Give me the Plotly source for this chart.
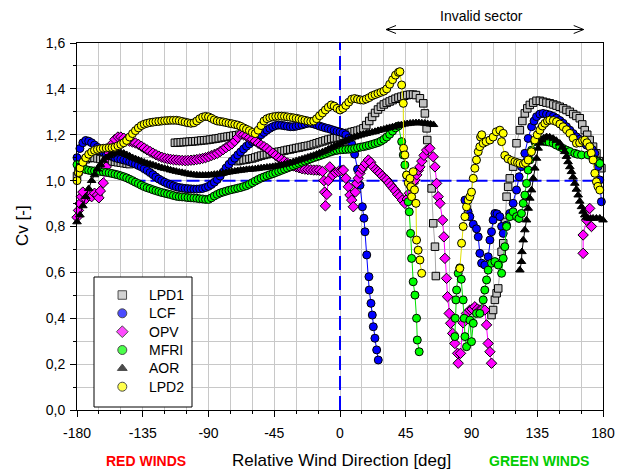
import plotly.graph_objects as go

# ---------------- DATA (deg, Cv) ----------------
LPD1_PTS = [
    (-180, 1.02), (-179, 1.04), (-178, 1.06), (-176, 1.082), (-174, 1.093), (-172, 1.098), (-170, 1.10),
    (-168, 1.099), (-166, 1.097), (-164, 1.094), (-162, 1.091), (-160, 1.088), (-158, 1.086), (-156, 1.084),
    (-154, 1.082), (-152, 1.08), (-150, 1.078), (-148, 1.076), (-146, 1.074), (-144, 1.072),
    (None, None),
    (-113, 1.165), (-111, 1.166), (-109, 1.167), (-107, 1.168), (-105, 1.169), (-103, 1.17), (-101, 1.171),
    (-99, 1.172), (-97, 1.173), (-95, 1.175), (-93, 1.176), (-91, 1.177), (-89, 1.179), (-87, 1.181),
    (-85, 1.183), (-83, 1.185), (-81, 1.188), (-79, 1.19), (-77, 1.192), (-75, 1.194), (-73, 1.196),
    (-71, 1.198), (-69, 1.2), (-67, 1.2),
    (None, None),
    (-70, 1.085), (-68, 1.088), (-66, 1.09), (-64, 1.092), (-62, 1.095), (-60, 1.097), (-58, 1.101),
    (-56, 1.105), (-54, 1.109), (-52, 1.112), (-50, 1.115), (-48, 1.118), (-46, 1.12), (-44, 1.123),
    (-42, 1.126), (-40, 1.128), (-38, 1.131), (-36, 1.134), (-34, 1.136), (-32, 1.139), (-30, 1.142),
    (-28, 1.144), (-26, 1.147), (-24, 1.15), (-22, 1.152), (-20, 1.155), (-18, 1.159), (-16, 1.163),
    (-14, 1.167), (-12, 1.171), (-10, 1.175), (-8, 1.179), (-6, 1.182), (-4, 1.185), (-2, 1.188),
    (0, 1.19), (2, 1.196), (4, 1.203), (6, 1.208), (8, 1.212), (10, 1.215), (12, 1.218), (14, 1.222),
    (16, 1.228), (18, 1.242), (20, 1.26), (22, 1.278), (24, 1.295), (26, 1.31), (28, 1.322), (30, 1.332),
    (32, 1.339), (34, 1.345), (36, 1.351), (38, 1.357), (40, 1.362), (42, 1.366), (44, 1.37), (46, 1.373),
    (48, 1.375), (50, 1.375), (52, 1.373), (54.7, 1.359), (57, 1.337), (58.1, 1.293), (59.3, 1.228),
    (59.7, 1.177), (62.7, 0.966), (63.8, 0.814), (65, 0.712), (65.6, 0.584),
    (None, None),
    (103.7, 0.414), (104.8, 0.436), (106, 0.48), (107.2, 0.509), (108.3, 0.53), (110.6, 0.69),
    (111.7, 0.727), (113, 0.82), (114, 0.93), (115.1, 0.973), (116.2, 1.01), (118.5, 1.061),
    (120.8, 1.163), (123.1, 1.22), (124.8, 1.26), (126.5, 1.293), (128.2, 1.315), (129.9, 1.33),
    (132.2, 1.34), (134.5, 1.348), (136.8, 1.348), (139, 1.344), (141.3, 1.34), (143.6, 1.337),
    (146, 1.332), (148.2, 1.327), (150.4, 1.322), (152.7, 1.315), (155, 1.308), (157.3, 1.30),
    (159.6, 1.29), (161.8, 1.282), (164.1, 1.272), (165.8, 1.245), (167.5, 1.22), (169.2, 1.2),
    (170.9, 1.177), (173.2, 1.148), (175.5, 1.119), (177.2, 1.085), (178.9, 1.054),
]

LCF_PTS = [
    (-180, 1.10), (-178, 1.14), (-176, 1.165), (-174, 1.175), (-172, 1.172), (-170, 1.165), (-168, 1.155),
    (-166, 1.145), (-164, 1.135), (-162, 1.125), (-160, 1.118), (-158, 1.11), (-156, 1.105), (-154, 1.10),
    (-152, 1.096), (-150, 1.093), (-148, 1.09), (-146, 1.087), (-144, 1.082), (-142, 1.077), (-140, 1.072),
    (-138, 1.066), (-136, 1.06), (-134, 1.052), (-132, 1.044), (-130, 1.035), (-128, 1.026), (-126, 1.016),
    (-124, 1.007), (-122, 1.0), (-120, 0.993), (-118, 0.987), (-116, 0.982), (-114, 0.977), (-112, 0.973),
    (-110, 0.97), (-108, 0.968), (-106, 0.966), (-104, 0.965), (-102, 0.964), (-100, 0.963), (-98, 0.963),
    (-96, 0.964), (-94, 0.966), (-92, 0.97), (-90, 0.975), (-88, 0.983), (-86, 0.993), (-84, 1.005),
    (-82, 1.02), (-80, 1.037), (-78, 1.055), (-76, 1.071), (-74, 1.085), (-72, 1.098), (-70, 1.112),
    (-68, 1.125), (-66, 1.138), (-64, 1.15), (-62, 1.16), (-60, 1.17), (-58, 1.18), (-56, 1.19),
    (-54, 1.2), (-52, 1.21), (-50, 1.22), (-48, 1.228), (-46, 1.235), (-44, 1.24), (-42, 1.242),
    (-40, 1.241), (-38, 1.239), (-36, 1.237), (-34, 1.235), (-32, 1.235), (-30, 1.237), (-28, 1.24),
    (-26, 1.243), (-24, 1.247), (-22, 1.25), (-20, 1.25), (-18, 1.247), (-16, 1.243), (-14, 1.238),
    (-12, 1.234), (-10, 1.23), (-8, 1.227), (-6, 1.223), (-4, 1.219), (-2, 1.215), (0, 1.212),
    (2, 1.208), (4, 1.2), (6, 1.185), (8, 1.16), (10, 1.115), (12, 1.05), (13.7, 0.98), (15.3, 0.886),
    (16.4, 0.836), (17.1, 0.777), (18.3, 0.676), (19.8, 0.581), (20.0, 0.523), (21.2, 0.465),
    (22.1, 0.414), (22.8, 0.363), (23.9, 0.313), (25.1, 0.262), (26.2, 0.218),
    (None, None),
    (85.5, 0.915), (87.7, 0.864), (88.9, 0.843), (91.2, 0.81), (93.4, 0.79), (94.6, 0.755),
    (95.7, 0.683), (96.9, 0.64), (99.1, 0.632), (101.4, 0.668), (102.6, 0.741), (103.7, 0.777),
    (104.8, 0.828), (106, 0.857), (107.5, 0.855), (109.4, 0.843), (110.6, 0.80), (111.7, 0.77),
    (114, 0.806), (116.2, 0.857), (118.5, 0.901), (120.8, 0.959), (122.6, 1.017), (124.2, 1.061),
    (126.5, 1.119), (128.8, 1.184), (131.1, 1.235), (132.8, 1.26), (134.5, 1.279), (136.8, 1.29),
    (139, 1.293), (141.3, 1.29), (143.6, 1.286), (146, 1.28), (148.2, 1.272), (150.5, 1.262),
    (152.7, 1.25), (155, 1.235), (157.3, 1.22), (159.6, 1.205), (161.8, 1.191), (164, 1.18),
    (166.5, 1.165), (168.7, 1.155), (170.9, 1.148), (172.7, 1.135), (174.4, 1.119), (176.6, 1.061),
    (177.8, 1.003), (178.9, 0.908),
]

OPV_PTS = [
    (-180, 0.84), (-179, 0.87), (-178, 0.90), (-177, 0.93), (-176, 0.95), (-174, 0.92), (-172, 0.935),
    (-170, 0.93), (-168, 0.945), (-166, 0.937), (-165, 0.925), (-164, 0.955), (-162, 0.99), (-160, 1.06),
    (-158, 1.12), (-156, 1.16), (-154, 1.18), (-152, 1.19), (-150, 1.19), (-148, 1.185), (-146, 1.178),
    (-144, 1.172), (-142, 1.168), (-140, 1.164), (-138, 1.158), (-136, 1.15), (-134, 1.142), (-132, 1.134),
    (-130, 1.127), (-128, 1.12), (-126, 1.113), (-124, 1.107), (-122, 1.102), (-120, 1.098), (-118, 1.095),
    (-116, 1.093), (-114, 1.091), (-112, 1.09), (-110, 1.089), (-108, 1.088), (-106, 1.087), (-104, 1.088),
    (-102, 1.089), (-100, 1.09), (-98, 1.092), (-96, 1.094), (-94, 1.097), (-92, 1.10), (-90, 1.104),
    (-88, 1.109), (-86, 1.114), (-84, 1.119), (-82, 1.127), (-80, 1.135), (-78, 1.144), (-76, 1.152),
    (-74, 1.16), (-72, 1.172), (-70, 1.188), (-68, 1.203), (-66, 1.20), (-64, 1.194), (-62, 1.187),
    (-60, 1.18), (-58, 1.172), (-56, 1.163), (-54, 1.155), (-52, 1.148), (-50, 1.14), (-48, 1.13),
    (-46, 1.12), (-44, 1.11), (-42, 1.10), (-40, 1.092), (-38, 1.084), (-36, 1.077), (-34, 1.07),
    (-32, 1.065), (-30, 1.06), (-28, 1.056), (-26, 1.052), (-24, 1.05), (-22, 1.048), (-20, 1.047),
    (-18, 1.046), (-16, 1.046), (-14, 1.045), (-12, 1.04), (-11, 1.0), (-10.5, 0.95), (-10, 0.89),
    (-9, 0.94), (-8, 1.0), (-7, 1.06), (-5, 1.024), (-3, 1.035), (-1, 1.04), (1, 1.043), (2.3, 1.046),
    (4, 1.01), (5.7, 0.973), (6.8, 0.937), (8, 0.915), (9.1, 0.886), (10.5, 0.95), (11.4, 0.988),
    (12.5, 1.01), (13.7, 1.032), (15, 1.05), (15.9, 1.06), (17.5, 1.075), (19.4, 1.09), (21, 1.08),
    (22.8, 1.06), (24.5, 1.048), (26, 1.04), (27.4, 1.032), (29, 1.02), (30.5, 1.01), (32, 1.003),
    (33.5, 0.99), (35, 0.978), (36.5, 0.966), (38, 0.955), (39.5, 0.94), (41, 0.93), (42.7, 0.915),
    (44.4, 0.901), (46, 0.92), (47.5, 0.945), (49, 0.97), (50.2, 0.99), (51.3, 1.003), (52.5, 1.025),
    (53.6, 1.045), (54.7, 1.06), (56, 1.085), (57.5, 1.11), (59.3, 1.133), (61.5, 1.141), (63.8, 1.104),
    (65, 1.06), (66.1, 0.988), (67.2, 0.93), (68.4, 0.901), (70.2, 0.828), (71.1, 0.755), (71.8, 0.661),
    (72.9, 0.574), (73.6, 0.494), (74.7, 0.421), (75.7, 0.378), (77.1, 0.334), (78.6, 0.29),
    (80.5, 0.247), (80.9, 0.204), (82.5, 0.247), (84.3, 0.38), (86.6, 0.421), (88.9, 0.436),
    (90.5, 0.44), (92.3, 0.45), (94, 0.44), (95.7, 0.436), (97.5, 0.44), (99.1, 0.436), (100.3, 0.371),
    (101.4, 0.29), (102.6, 0.254), (103.7, 0.204),
    (None, None),
    (166.4, 0.683), (166.4, 0.763), (168.7, 0.828), (170.9, 0.879), (172.1, 0.80),
]

MFRI_PTS = [
    (-180, 1.07), (-178, 1.06), (-176, 1.053), (-174, 1.048), (-172, 1.045), (-170, 1.043), (-168, 1.042),
    (-166, 1.041), (-164, 1.04), (-162, 1.038), (-160, 1.036), (-158, 1.034), (-156, 1.031), (-154, 1.028),
    (-152, 1.025), (-150, 1.021), (-148, 1.017), (-146, 1.012), (-144, 1.006), (-142, 1.0), (-140, 0.993),
    (-138, 0.987), (-136, 0.98), (-134, 0.974), (-132, 0.969), (-130, 0.965), (-128, 0.96), (-126, 0.956),
    (-124, 0.952), (-122, 0.948), (-120, 0.945), (-118, 0.942), (-116, 0.939), (-114, 0.935), (-112, 0.932),
    (-110, 0.93), (-108, 0.929), (-106, 0.928), (-104, 0.926), (-102, 0.925), (-100, 0.924), (-98, 0.923),
    (-96, 0.921), (-94, 0.92), (-92, 0.918), (-90, 0.918), (-88, 0.925), (-86, 0.933), (-84, 0.94),
    (-82, 0.946), (-80, 0.95), (-78, 0.954), (-76, 0.958), (-74, 0.961), (-72, 0.964), (-70, 0.967),
    (-68, 0.97), (-66, 0.974), (-64, 0.978), (-62, 0.984), (-60, 0.991), (-58, 0.998), (-56, 1.005),
    (-54, 1.011), (-52, 1.016), (-50, 1.021), (-48, 1.026), (-46, 1.03), (-44, 1.035), (-42, 1.04),
    (-40, 1.045), (-38, 1.05), (-36, 1.055), (-34, 1.06), (-32, 1.065), (-30, 1.07), (-28, 1.075),
    (-26, 1.08), (-24, 1.085), (-22, 1.09), (-20, 1.095), (-18, 1.10), (-16, 1.104), (-14, 1.108),
    (-12, 1.113), (-10, 1.117), (-8, 1.122), (-6, 1.126), (-4, 1.13), (-2, 1.132), (0, 1.134),
    (2, 1.135), (4, 1.136), (6, 1.137), (8, 1.138), (10, 1.14), (12, 1.143), (14, 1.146), (16, 1.148),
    (18, 1.151), (20, 1.154), (22, 1.158), (24, 1.162), (26, 1.166), (28, 1.172), (30, 1.18), (32, 1.19),
    (34, 1.202), (36, 1.216), (38, 1.23), (40, 1.238), (42.2, 1.17), (43.3, 1.112), (44.4, 1.068),
    (45.6, 1.024), (46.7, 0.908), (47.4, 0.864), (48.3, 0.77), (49.0, 0.661), (50.1, 0.559),
    (51.3, 0.501), (52.4, 0.40), (52.9, 0.305), (54.2, 0.254),
    (None, None),
    (78.6, 0.32), (78.9, 0.40), (79.3, 0.48), (79.8, 0.523), (80.9, 0.596), (82, 0.62), (83, 0.57),
    (84.3, 0.48), (85, 0.40), (85.5, 0.32), (86.6, 0.276), (88.9, 0.392), (90, 0.298), (91.2, 0.378),
    (93.4, 0.421), (95.7, 0.421), (98, 0.48), (99.1, 0.523), (100.3, 0.567), (101.4, 0.61),
    (103.7, 0.64), (106, 0.647), (108.3, 0.632), (110.6, 0.596), (111.7, 0.661), (112.8, 0.712),
    (114, 0.80), (116.2, 0.843), (118.5, 0.864), (120.8, 0.843), (122.5, 0.835), (124.2, 0.857),
    (125.4, 0.901), (126.5, 0.937), (127.7, 0.988), (128.8, 1.046), (129.9, 1.09), (131.1, 1.133),
    (133.3, 1.17), (134.5, 1.175), (136.8, 1.177), (138.5, 1.176), (140, 1.172), (141.4, 1.17),
    (143, 1.168), (145.9, 1.163), (148, 1.155), (150.4, 1.148), (152.7, 1.14), (155, 1.133),
    (157.3, 1.127), (160.7, 1.119), (162.5, 1.115), (165.3, 1.112), (169.8, 1.112), (173.2, 1.097),
    (176.6, 1.082), (177.8, 1.075),
]

AOR_PTS = [
    (-180, 0.82), (-178, 0.85), (-176, 0.89), (-174, 0.93), (-172, 0.965), (-170, 1.0), (-168, 1.025),
    (-166, 1.05), (-164, 1.07), (-162, 1.088), (-160, 1.10), (-158, 1.108), (-156, 1.115), (-154, 1.12),
    (-152, 1.123), (-150, 1.122), (-148, 1.119), (-146, 1.113), (-144, 1.107), (-142, 1.10), (-140, 1.095),
    (-138, 1.09), (-136, 1.085), (-134, 1.08), (-132, 1.075), (-130, 1.072), (-128, 1.068), (-126, 1.064),
    (-124, 1.06), (-122, 1.056), (-120, 1.053), (-118, 1.05), (-116, 1.046), (-114, 1.043), (-112, 1.04),
    (-110, 1.037), (-108, 1.035), (-106, 1.032), (-104, 1.029), (-102, 1.027), (-100, 1.025), (-98, 1.024),
    (-96, 1.023), (-94, 1.023), (-92, 1.023), (-90, 1.024), (-88, 1.025), (-86, 1.027), (-84, 1.028),
    (-82, 1.03), (-80, 1.032), (-78, 1.035), (-76, 1.037), (-74, 1.039), (-72, 1.041), (-70, 1.043),
    (-68, 1.045), (-66, 1.046), (-64, 1.048), (-62, 1.049), (-60, 1.05), (-58, 1.051), (-56, 1.053),
    (-54, 1.055), (-52, 1.056), (-50, 1.058), (-48, 1.059), (-46, 1.061), (-44, 1.063), (-42, 1.065),
    (-40, 1.068), (-38, 1.071), (-36, 1.075), (-34, 1.078), (-32, 1.082), (-30, 1.086), (-28, 1.09),
    (-26, 1.094), (-24, 1.098), (-22, 1.102), (-20, 1.106), (-18, 1.11), (-16, 1.115), (-14, 1.12),
    (-12, 1.125), (-10, 1.13), (-8, 1.137), (-6, 1.143), (-4, 1.149), (-2, 1.155), (0, 1.16),
    (2, 1.167), (4, 1.174), (6, 1.18), (8, 1.186), (10, 1.19), (12, 1.194), (14, 1.198), (16, 1.202),
    (18, 1.205), (20, 1.208), (22, 1.211), (24, 1.214), (26, 1.218), (28, 1.221), (30, 1.224),
    (32, 1.228), (34, 1.231), (36, 1.234), (38, 1.237), (40, 1.24), (42, 1.243), (44, 1.246),
    (46, 1.248), (48, 1.25), (50, 1.251), (52, 1.252), (54, 1.252), (56, 1.251), (58, 1.25),
    (60, 1.248), (62, 1.246), (64, 1.244),
    (None, None),
    (123.1, 0.61), (124.2, 0.647), (124.5, 0.69), (125.4, 0.741), (126.5, 0.785), (127.7, 0.828),
    (128.8, 0.879), (129.9, 0.923), (131.1, 0.959), (132.2, 1.01), (133.3, 1.054), (134.5, 1.097),
    (135.6, 1.141), (136.8, 1.163), (137.9, 1.177), (139.5, 1.186), (141.4, 1.191), (143.5, 1.19),
    (145.9, 1.184), (148, 1.175), (150.4, 1.163), (152.2, 1.145), (153.8, 1.126), (155, 1.105),
    (156.1, 1.082), (157.3, 1.06), (158.4, 1.039), (159.5, 1.015), (160.7, 0.988), (161.8, 0.962),
    (163, 0.937), (164.1, 0.91), (165.3, 0.886), (166.4, 0.866), (167.5, 0.85), (168.7, 0.84),
    (169.8, 0.836), (171.5, 0.835), (173.2, 0.836), (175.5, 0.836), (177.8, 0.836), (180, 0.828),
]

LPD2_PTS = [
    (-180, 1.0), (-179, 1.035), (-178, 1.055), (-176, 1.08), (-174, 1.10), (-172, 1.115), (-170, 1.125),
    (-168, 1.132), (-166, 1.136), (-164, 1.139), (-162, 1.141), (-160, 1.142), (-158, 1.143), (-156, 1.144),
    (-154, 1.146), (-152, 1.152), (-150, 1.158), (-148, 1.165), (-146, 1.175), (-144, 1.19), (-142, 1.205),
    (-140, 1.218), (-138, 1.23), (-136, 1.24), (-134, 1.246), (-132, 1.25), (-130, 1.253), (-128, 1.255),
    (-126, 1.257), (-124, 1.258), (-122, 1.26), (-120, 1.261), (-118, 1.262), (-116, 1.263), (-114, 1.263),
    (-112, 1.263), (-110, 1.261), (-108, 1.258), (-106, 1.255), (-104, 1.252), (-102, 1.25), (-100, 1.252),
    (-98, 1.26), (-96, 1.27), (-94, 1.277), (-92, 1.28), (-90, 1.278), (-88, 1.272), (-86, 1.265),
    (-84, 1.26), (-82, 1.258), (-80, 1.256), (-78, 1.253), (-76, 1.25), (-74, 1.248), (-72, 1.245),
    (-70, 1.242), (-68, 1.237), (-66, 1.23), (-64, 1.224), (-62, 1.218), (-60, 1.21), (-58, 1.205),
    (-56, 1.22), (-54, 1.24), (-52, 1.26), (-50, 1.27), (-48, 1.275), (-46, 1.278), (-44, 1.28),
    (-42, 1.281), (-40, 1.281), (-38, 1.28), (-36, 1.278), (-34, 1.276), (-32, 1.274), (-30, 1.272),
    (-28, 1.269), (-26, 1.266), (-24, 1.263), (-22, 1.26), (-20, 1.258), (-18, 1.26), (-16, 1.27),
    (-14, 1.283), (-12, 1.295), (-10, 1.308), (-8, 1.32), (-6, 1.33), (-4, 1.325), (-2, 1.315),
    (0, 1.308), (2, 1.315), (4, 1.328), (6, 1.342), (8, 1.355), (10, 1.358), (12, 1.355), (14, 1.352),
    (16, 1.351), (18, 1.356), (20, 1.362), (22, 1.37), (24, 1.375), (26, 1.38), (28, 1.385), (30, 1.39),
    (32, 1.40), (34, 1.42), (36, 1.44), (38, 1.46), (40, 1.472), (41, 1.475), (42.2, 1.417),
    (43.3, 1.337), (43.5, 1.141), (44.4, 1.112), (45.6, 1.024), (46.7, 0.99), (47.9, 1.01),
    (48.5, 0.973), (49.0, 0.93), (50.1, 1.039), (51.0, 0.96), (52.0, 0.901), (52.4, 0.741),
    (53.5, 0.697), (54.7, 0.654), (55.9, 0.596),
    (None, None),
    (82, 0.617), (83.2, 0.727), (84.3, 0.80), (85.5, 0.843), (86.6, 0.886), (87.7, 0.915), (88.9, 0.93),
    (90, 0.95), (91.2, 1.01), (92.3, 1.054), (93.4, 1.09), (94.6, 1.126), (95.7, 1.148), (96.2, 1.19),
    (97, 1.20), (98, 1.163), (100, 1.17), (102.6, 1.177), (104.8, 1.19), (107, 1.213), (109.4, 1.22),
    (111.7, 1.206), (110.6, 1.17), (112.8, 1.11), (115, 1.095), (117.5, 1.087), (119.7, 1.082),
    (121.5, 1.078), (123.1, 1.075), (125.5, 1.072), (127, 1.078), (128.8, 1.09), (131, 1.126),
    (133.3, 1.177), (135, 1.20), (136.8, 1.22), (138.5, 1.238), (140.2, 1.25), (142, 1.26),
    (143.6, 1.264), (146, 1.262), (148.2, 1.257), (150.5, 1.247), (152.7, 1.235), (155, 1.222),
    (157.3, 1.206), (159.6, 1.185), (161.8, 1.163), (164, 1.165), (166, 1.175), (167.5, 1.177),
    (169, 1.165), (170.9, 1.148), (172, 1.12), (173.2, 1.09), (174.4, 1.032), (175.5, 0.995),
    (176.5, 0.975), (177.8, 0.959),
]

SERIES_NAMES = ["LPD1", "LCF", "OPV", "MFRI", "AOR", "LPD2"]
XTICKS = [-180, -135, -90, -45, 0, 45, 90, 135, 180]
XTICKTEXT = ["-180", "-135", "-90", "-45", "0", "45", "90", "135", "180"]
YTICKS = [0.0, 0.2, 0.4, 0.6, 0.8, 1.0, 1.2, 1.4, 1.6]
YTICKTEXT = ["0,0", "0,2", "0,4", "0,6", "0,8", "1,0", "1,2", "1,4", "1,6"]
INVALID_SECTOR = (31.5, 166.8)
REF_DIRECTION = 0      # vertical dashed reference line (deg)
REF_CV = 1.0           # horizontal dashed reference line
REF_CV_START = -142    # where the horizontal reference line starts (deg)

# ---------------- STYLE ----------------
FONT = "Liberation Sans, Arial, sans-serif"
W, H = 626, 472
L, R, T, B = 77, 23, 43, 62
PW, PH = W - L - R, H - T - B


def px2paper_x(px):
    return (px - L) / PW


def px2paper_y(py):
    return (H - B - py) / PH


styles = {
    "LPD1": dict(symbol="square", size=7.5, color="#c0c0c0", line="#a8a8a8"),
    "LCF": dict(symbol="circle", size=8, color="#0000ff", line="#0000ff"),
    "OPV": dict(symbol="diamond", size=8, color="#ff00ff", line="#ff00ff"),
    "MFRI": dict(symbol="circle", size=8, color="#00ff00", line="#00e000"),
    "AOR": dict(symbol="triangle-up", size=7.5, color="#000000", line="#000000"),
    "LPD2": dict(symbol="circle", size=8, color="#ffff00", line="#e0e000"),
}
data = {"LPD1": LPD1_PTS, "LCF": LCF_PTS, "OPV": OPV_PTS, "MFRI": MFRI_PTS,
        "AOR": AOR_PTS, "LPD2": LPD2_PTS}

fig = go.Figure()
# dashed blue reference lines (below the data)
fig.add_trace(go.Scatter(x=[REF_DIRECTION, REF_DIRECTION], y=[0, 1.6], mode="lines",
                         showlegend=False, hoverinfo="skip",
                         line=dict(color="#0000ff", width=2, dash="14px,6px")))
fig.add_trace(go.Scatter(x=[REF_CV_START, 180], y=[REF_CV, REF_CV], mode="lines",
                         showlegend=False, hoverinfo="skip",
                         line=dict(color="#0000ff", width=2, dash="13px,5px")))

for name in SERIES_NAMES:
    st = styles[name]
    xs = [p[0] for p in data[name]]
    ys = [p[1] for p in data[name]]
    fig.add_trace(go.Scatter(
        x=xs, y=ys, mode="lines+markers", name=name, showlegend=False,
        connectgaps=False, cliponaxis=False,
        line=dict(color=st["line"], width=1),
        marker=dict(symbol=st["symbol"], size=st["size"], color=st["color"],
                    line=dict(color="black", width=1)),
    ))

# ---- legend drawn on an overlay axis measured in pixels ----
LEG_BOX = dict(x0=94, x1=192, y0=277, y1=407)
LEG_ROWS = [295, 313.3, 331.7, 350, 368.3, 386.7]
LEG_SYM_X = 122.3
LEG_TXT_X = 146.5
fig.add_trace(go.Scatter(
    x=[LEG_BOX["x0"], LEG_BOX["x1"], LEG_BOX["x1"], LEG_BOX["x0"], LEG_BOX["x0"]],
    y=[LEG_BOX["y0"], LEG_BOX["y0"], LEG_BOX["y1"], LEG_BOX["y1"], LEG_BOX["y0"]],
    xaxis="x2", yaxis="y2", mode="lines", fill="toself", fillcolor="white",
    line=dict(color="black", width=1), showlegend=False, hoverinfo="skip"))
fig.add_trace(go.Scatter(
    x=[LEG_SYM_X] * len(SERIES_NAMES), y=LEG_ROWS, xaxis="x2", yaxis="y2", mode="markers",
    showlegend=False, hoverinfo="skip",
    marker=dict(symbol=[styles[n]["symbol"] for n in SERIES_NAMES],
                size=[styles[n]["size"] + 1 for n in SERIES_NAMES],
                color=[styles[n]["color"] for n in SERIES_NAMES],
                line=dict(color="black", width=1))))

axis_common = dict(showline=True, linecolor="black", linewidth=1, mirror=True,
                   ticks="outside", ticklen=6, tickcolor="black", tickwidth=1,
                   showgrid=True, gridcolor="#c8c8c8", gridwidth=1, zeroline=False,
                   tickfont=dict(family=FONT, size=14, color="black"))

fig.update_layout(
    xaxis=dict(range=[-180, 180], tickmode="array", tickvals=XTICKS, ticktext=XTICKTEXT,
               ticklabelstandoff=4,
               minor=dict(dtick=15, tick0=-180, ticks="outside", ticklen=3, tickcolor="black",
                          showgrid=True, gridcolor="#c8c8c8", gridwidth=1),
               **axis_common),
    yaxis=dict(range=[0, 1.6], tickmode="array", tickvals=YTICKS, ticktext=YTICKTEXT,
               ticklabelstandoff=2,
               minor=dict(dtick=0.1, tick0=0, ticks="outside", ticklen=3, tickcolor="black",
                          showgrid=True, gridcolor="#c8c8c8", gridwidth=1),
               **axis_common),
    xaxis2=dict(overlaying="x", anchor="y2", range=[L, W - R], visible=False, fixedrange=True),
    yaxis2=dict(overlaying="y", anchor="x2", range=[H - B, T], visible=False, fixedrange=True),
)

# invalid sector double arrow
ya = px2paper_y(29.5)
dy = 4.0 / PH
dxd = 10 / (PW / 360)
a0, a1 = INVALID_SECTOR
shapes = [
    dict(type="line", xref="x", yref="paper", x0=a0, x1=a1, y0=ya, y1=ya,
         line=dict(color="black", width=1)),
    dict(type="path", xref="x", yref="paper",
         path=f"M {a1 - dxd},{ya + dy} L {a1},{ya} L {a1 - dxd},{ya - dy}",
         line=dict(color="black", width=1)),
    dict(type="path", xref="x", yref="paper",
         path=f"M {a0 + dxd},{ya + dy} L {a0},{ya} L {a0 + dxd},{ya - dy}",
         line=dict(color="black", width=1)),
]

BOTTOM_Y = 460
annotations = [
    dict(text="Invalid sector", xref="x", yref="paper", x=(a0 + a1) / 2 - 2, y=px2paper_y(16.5),
         showarrow=False, xanchor="center", yanchor="middle",
         font=dict(family=FONT, size=14, color="black")),
    dict(text="Relative Wind Direction [deg]", xref="paper", yref="paper", x=px2paper_x(341),
         y=px2paper_y(BOTTOM_Y), showarrow=False, xanchor="center", yanchor="middle",
         font=dict(family=FONT, size=17, color="black")),
    dict(text="<b>RED WINDS</b>", xref="paper", yref="paper", x=px2paper_x(146),
         y=px2paper_y(BOTTOM_Y + 1), showarrow=False, xanchor="center", yanchor="middle",
         font=dict(family=FONT, size=14, color="#ff0000")),
    dict(text="<b>GREEN WINDS</b>", xref="paper", yref="paper", x=px2paper_x(539),
         y=px2paper_y(BOTTOM_Y + 1), showarrow=False, xanchor="center", yanchor="middle",
         font=dict(family=FONT, size=14, color="#00cc00")),
    dict(text="Cv [-]", xref="paper", yref="paper", x=px2paper_x(22), y=px2paper_y(226),
         showarrow=False, xanchor="center", yanchor="middle", textangle=-90,
         font=dict(family=FONT, size=17, color="black")),
]
for name, row in zip(SERIES_NAMES, LEG_ROWS):
    annotations.append(dict(text=name, xref="x2", yref="y2", x=LEG_TXT_X, y=row,
                            showarrow=False, xanchor="left", yanchor="middle",
                            font=dict(family=FONT, size=14, color="black")))

fig.update_layout(
    width=W, height=H, autosize=False,
    margin=dict(l=L, r=R, t=T, b=B, pad=0),
    paper_bgcolor="white", plot_bgcolor="white",
    font=dict(family=FONT, size=14, color="black"),
    shapes=shapes, annotations=annotations, showlegend=False,
)

fig.write_html("out.html")
